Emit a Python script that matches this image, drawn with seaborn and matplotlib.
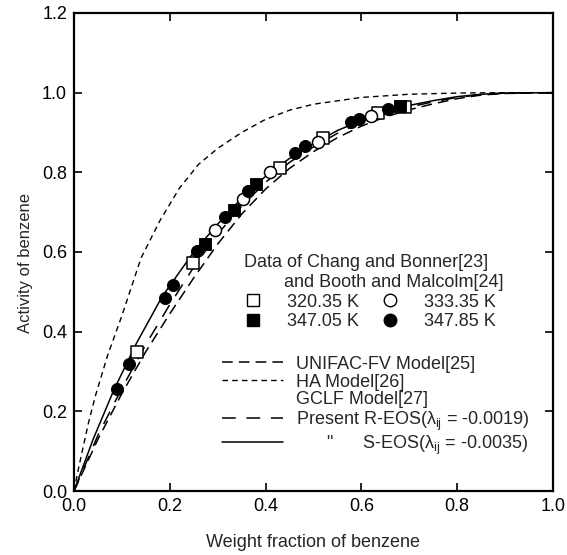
import numpy as np
import pandas as pd
import matplotlib
matplotlib.use("Agg")
import matplotlib.pyplot as plt
from matplotlib.lines import Line2D
import seaborn as sns

# ---- experimental data (weight fraction, activity) ----
w_320 = [0.132, 0.249, 0.430, 0.520, 0.635, 0.690]
a_320 = [0.350, 0.573, 0.812, 0.885, 0.948, 0.964]

w_333 = [0.294, 0.353, 0.410, 0.510, 0.621]
a_333 = [0.655, 0.734, 0.802, 0.877, 0.941]

w_34705 = [0.273, 0.333, 0.381, 0.680]
a_34705 = [0.621, 0.705, 0.770, 0.966]

w_34785 = [0.090, 0.115, 0.190, 0.207, 0.256, 0.315, 0.364, 0.461, 0.482, 0.578, 0.594, 0.656]
a_34785 = [0.256, 0.319, 0.485, 0.517, 0.602, 0.688, 0.753, 0.849, 0.866, 0.927, 0.935, 0.958]

# ---- model curves ----
w_ha = [0.0, 0.01, 0.02, 0.03, 0.045, 0.07, 0.10, 0.14, 0.18, 0.22, 0.26, 0.30, 0.35, 0.40, 0.45, 0.50, 0.60, 0.70, 0.80, 0.90, 1.0]
a_ha = [0.0, 0.06, 0.115, 0.17, 0.24, 0.34, 0.44, 0.585, 0.68, 0.76, 0.82, 0.86, 0.90, 0.933, 0.956, 0.971, 0.988, 0.996, 0.999, 1.0, 1.0]

w_unifac = [0.0, 0.05, 0.10, 0.15, 0.20, 0.25, 0.30, 0.35, 0.40, 0.45, 0.50, 0.55, 0.60, 0.65, 0.70, 0.75, 0.80, 0.85, 0.90, 1.0]
a_unifac = [0.0, 0.13, 0.245, 0.35, 0.445, 0.535, 0.62, 0.695, 0.758, 0.81, 0.852, 0.887, 0.916, 0.939, 0.957, 0.972, 0.985, 0.994, 0.998, 1.0]

w_reos = [0.0, 0.05, 0.10, 0.15, 0.20, 0.25, 0.30, 0.35, 0.40, 0.45, 0.50, 0.55, 0.60, 0.65, 0.70, 0.75, 0.80, 0.85, 0.90, 1.0]
a_reos = [0.0, 0.14, 0.258, 0.368, 0.468, 0.562, 0.645, 0.715, 0.775, 0.825, 0.864, 0.898, 0.925, 0.947, 0.964, 0.977, 0.988, 0.995, 0.999, 1.0]

w_seos = [0.0, 0.04, 0.083, 0.13, 0.184, 0.25, 0.30, 0.35, 0.40, 0.45, 0.50, 0.55, 0.60, 0.65, 0.70, 0.75, 0.80, 0.85, 0.90, 1.0]
a_seos = [0.0, 0.13, 0.253, 0.37, 0.488, 0.60, 0.67, 0.735, 0.79, 0.835, 0.872, 0.905, 0.93, 0.952, 0.968, 0.98, 0.99, 0.996, 0.999, 1.0]

x_ticks = [0.0, 0.2, 0.4, 0.6, 0.8, 1.0]
y_ticks = [0.0, 0.2, 0.4, 0.6, 0.8, 1.0, 1.2]

sns.set_style("white")
plt.rcParams['font.family'] = ['Liberation Sans', 'DejaVu Sans']
plt.rcParams['mathtext.fontset'] = 'custom'
plt.rcParams['mathtext.rm'] = 'Liberation Sans'
plt.rcParams['mathtext.it'] = 'Liberation Sans'

fig = plt.figure(figsize=(5.67, 5.55), dpi=100)
ax = fig.add_axes([0.1305, 0.1153, 0.8448, 0.8613])

lw = 1.1
sns.lineplot(x=w_ha, y=a_ha, ax=ax, color='black', lw=1.0, estimator=None,
             linestyle=(0, (4, 3)))
sns.lineplot(x=w_unifac, y=a_unifac, ax=ax, color='black', lw=lw, estimator=None,
             linestyle=(0, (7, 4)))
sns.lineplot(x=w_reos, y=a_reos, ax=ax, color='black', lw=lw, estimator=None,
             linestyle=(0, (9, 7)))
sns.lineplot(x=w_seos, y=a_seos, ax=ax, color='black', lw=lw, estimator=None)

ms = 75
sns.scatterplot(x=w_320, y=a_320, ax=ax, marker='s', s=ms * 0.85, facecolor='white', edgecolor='black', linewidth=1.1, zorder=3)
sns.scatterplot(x=w_333, y=a_333, ax=ax, marker='o', s=ms, facecolor='white', edgecolor='black', linewidth=1.1, zorder=3)
sns.scatterplot(x=w_34705, y=a_34705, ax=ax, marker='s', s=ms * 0.85, color='black', edgecolor='black', zorder=4)
sns.scatterplot(x=w_34785, y=a_34785, ax=ax, marker='o', s=ms, color='black', edgecolor='black', zorder=4)

ax.set_xlim(0, 1.0)
ax.set_ylim(0, 1.2)
ax.set_xticks(x_ticks)
ax.set_yticks(y_ticks)
ax.set_xticklabels([f"{v:.1f}" for v in x_ticks])
ax.set_yticklabels([f"{v:.1f}" for v in y_ticks])
ax.tick_params(direction='in', length=6, width=1.2, labelsize=13, top=True, right=True,
               bottom=True, left=True, pad=5, colors='black')
for sp in ax.spines.values():
    sp.set_linewidth(1.6)
    sp.set_color('black')
ax.set_xlabel("Weight fraction of benzene", fontsize=13, labelpad=14)
ax.set_ylabel("Activity of benzene", fontsize=12)
ax.yaxis.set_label_coords(-0.085, 0.477)

# legend 1: data markers
h1 = [
    Line2D([], [], marker='s', ls='none', mfc='white', mec='black', ms=8, mew=1.0),
    Line2D([], [], marker='s', ls='none', mfc='black', mec='black', ms=8),
    Line2D([], [], marker='o', ls='none', mfc='white', mec='black', ms=9, mew=1.0),
    Line2D([], [], marker='o', ls='none', mfc='black', mec='black', ms=9),
]
l1 = ["320.35 K", "347.05 K", "333.35 K", "347.85 K"]
leg1 = ax.legend(h1, l1, ncol=2, loc='upper left', bbox_to_anchor=(0.336, 0.514),
                 frameon=False, fontsize=13, title_fontsize=13,
                 title="Data of Chang and Bonner[23]\n        and Booth and Malcolm[24]",
                 alignment='left', borderpad=0, handlelength=1.0, handletextpad=1.4,
                 columnspacing=1.2, labelspacing=0.15)
ax.add_artist(leg1)

# legend 2: model lines
h2 = [
    Line2D([], [], color='black', lw=lw, ls=(0, (7, 4))),
    Line2D([], [], color='black', lw=1.0, ls=(0, (4, 3))),
    Line2D([], [], color='none', lw=0),
    Line2D([], [], color='black', lw=lw, ls=(0, (9, 7))),
    Line2D([], [], color='black', lw=lw),
]
l2 = ["UNIFAC-FV Model[25]", "HA Model[26]", "GCLF Model[27]",
      r"Present R-EOS($\lambda_{ij}$ = -0.0019)",
      '      "      S-EOS($\\lambda_{ij}$ = -0.0035)']
leg2 = ax.legend(h2, l2, loc='upper left', bbox_to_anchor=(0.29, 0.302),
                 frameon=False, fontsize=13, borderpad=0, handlelength=3.4,
                 handletextpad=0.7, labelspacing=0.05)

fig.savefig("out.png", dpi=100)
